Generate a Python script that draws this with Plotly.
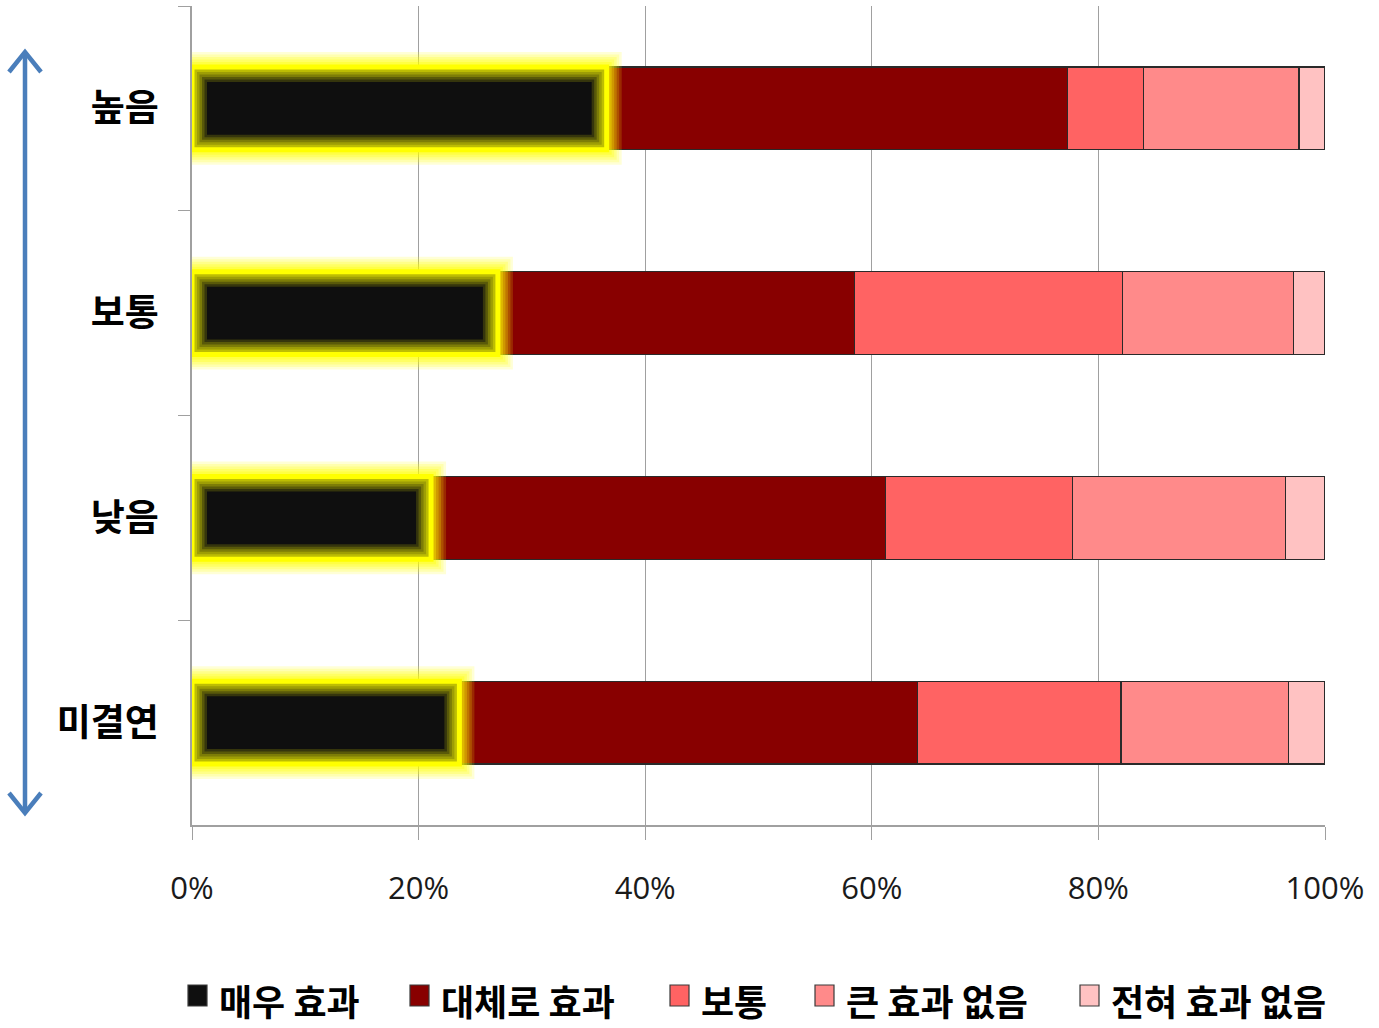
import plotly.graph_objects as go

# ---------------- data ----------------
categories = ["높음", "보통", "낮음", "미결연"]
series_names = ["매우 효과", "대체로 효과", "보통", "큰 효과 없음", "전혀 효과 없음"]
very_effective = [36.6, 27.0, 21.1, 23.6]
mostly_effective = [40.7, 31.5, 40.1, 40.4]
moderate = [6.7, 23.6, 16.5, 18.0]
little_effect = [13.7, 15.1, 18.8, 14.8]
no_effect = [2.3, 2.8, 3.5, 3.2]
x_tick_values = [0, 20, 40, 60, 80, 100]
x_tick_labels = ["0%", "20%", "40%", "60%", "80%", "100%"]

series_values = [very_effective, mostly_effective, moderate, little_effect, no_effect]
colors = ["#0F0F0F", "#880000", "#FF6363", "#FF8A8A", "#FFC2C2"]

# ---------------- layout constants ----------------
W, H = 1379, 1028
ML, MR, MT, MB = 192, 54, 6, 203
PW = W - ML - MR
PH = H - MT - MB
BAR_W = 0.405

KFONT = "Noto Sans CJK KR"
NFONT = "Open Sans, sans-serif"

legend_marker_left_px = [188, 410, 670, 815, 1080]
legend_text_gap_px = 30


def px_x(p):
    return (p - ML) / PW


def px_y(p):
    return 1 - (p - MT) / PH


fig = go.Figure()
for name, vals, col in zip(series_names, series_values, colors):
    fig.add_trace(go.Bar(
        y=categories, x=vals, name=name, orientation="h",
        marker=dict(color=col,
                    line=dict(color="#2a2a2a", width=0 if col == colors[0] else 1.2)),
        hoverinfo="name+x", showlegend=False,
    ))

shapes = []
annotations = []

# yellow glow highlight around the first series
for i, v in enumerate(very_effective):
    y0, y1 = i - BAR_W / 2, i + BAR_W / 2
    for lw, a in [(30, 0.16), (25, 0.18), (20, 0.22), (15, 0.26), (10, 0.32)]:
        shapes.append(dict(type="rect", xref="x", yref="y", x0=0, x1=v, y0=y0, y1=y1,
                           line=dict(color=f"rgba(255,255,0,{a})", width=lw),
                           fillcolor="rgba(0,0,0,0)", layer="above"))
    shapes.append(dict(type="rect", xref="x", yref="y", x0=0, x1=v, y0=y0, y1=y1,
                       line=dict(color="#FFFF00", width=5),
                       fillcolor="rgba(0,0,0,0)", layer="above"))

# blue double-headed arrow on the left
ax = 25
top, bot = 52, 813
arrow_col = "#4A7EBB"
shapes.append(dict(type="line", xref="paper", yref="paper",
                   x0=px_x(ax), x1=px_x(ax), y0=px_y(top + 2), y1=px_y(bot - 2),
                   line=dict(color=arrow_col, width=4.5)))
shapes.append(dict(type="path", xref="paper", yref="paper",
                   path=f"M {px_x(ax-16)} {px_y(top+20)} L {px_x(ax)} {px_y(top)} L {px_x(ax+16)} {px_y(top+20)}",
                   line=dict(color=arrow_col, width=4.5)))
shapes.append(dict(type="path", xref="paper", yref="paper",
                   path=f"M {px_x(ax-16)} {px_y(bot-20)} L {px_x(ax)} {px_y(bot)} L {px_x(ax+16)} {px_y(bot-20)}",
                   line=dict(color=arrow_col, width=4.5)))

# legend (drawn manually to match marker size and spacing)
for name, col, left in zip(series_names, colors, legend_marker_left_px):
    shapes.append(dict(type="rect", xref="paper", yref="paper",
                       x0=px_x(left), x1=px_x(left + 19),
                       y0=px_y(1006), y1=px_y(985),
                       fillcolor=col, line=dict(color="#3a3a3a", width=1.2)))
    annotations.append(dict(text=name, xref="paper", yref="paper",
                            x=px_x(left + legend_text_gap_px), y=px_y(1027),
                            xanchor="left", yanchor="bottom", showarrow=False,
                            borderpad=0,
                            font=dict(family=KFONT, size=36, color="#000000", weight="bold")))

fig.update_layout(
    width=W, height=H,
    margin=dict(l=ML, r=MR, t=MT, b=MB, pad=0, autoexpand=False),
    paper_bgcolor="white", plot_bgcolor="white",
    barmode="stack", bargap=1 - BAR_W,
    shapes=shapes, annotations=annotations,
    showlegend=False,
    font=dict(family=KFONT),
)
fig.update_xaxes(
    range=[0, 100], tickvals=x_tick_values, ticktext=x_tick_labels,
    showgrid=True, gridcolor="#A0A0A0", gridwidth=1.2,
    showline=True, linecolor="#A0A0A0", linewidth=1.5,
    ticks="outside", ticklen=13, tickcolor="#A0A0A0", tickwidth=1.2,
    tickfont=dict(family=NFONT, size=31, color="#1a1a1a"),
    ticklabelstandoff=22, zeroline=False, fixedrange=True, automargin=False,
)
fig.update_yaxes(
    categoryorder="array", categoryarray=categories, autorange="reversed",
    showline=True, linecolor="#A0A0A0", linewidth=1.5,
    ticks="outside", ticklen=12, tickcolor="#A0A0A0", tickwidth=1.2,
    tickson="boundaries", showgrid=False,
    tickfont=dict(family=KFONT, size=37, color="#000000", weight="bold"),
    ticklabelstandoff=24, fixedrange=True, automargin=False,
)

fig.write_html("out.html", config={"displayModeBar": False},
               post_script="document.body.style.margin='0';")
